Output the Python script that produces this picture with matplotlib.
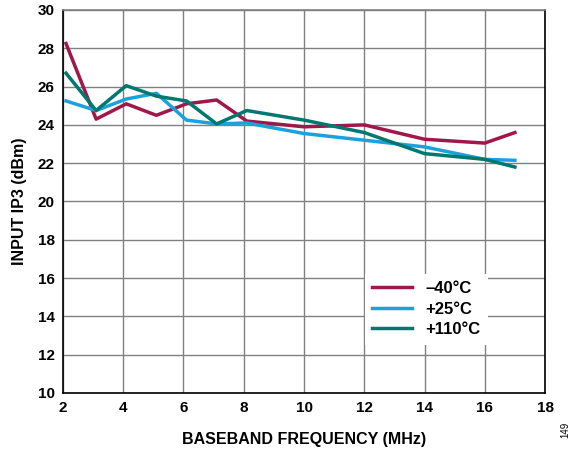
import matplotlib.pyplot as plt

plt.rcParams['font.family'] = ['Liberation Sans', 'DejaVu Sans']

freq = [2.1, 3.1, 4.1, 5.1, 6.1, 7.1, 8.1, 10, 12, 14, 16, 17]
ip3_m40 = [28.25, 24.3, 25.1, 24.5, 25.1, 25.3, 24.2, 23.9, 24.0, 23.25, 23.05, 23.6]
ip3_p25 = [25.25, 24.75, 25.35, 25.65, 24.25, 24.05, 24.1, 23.55, 23.2, 22.85, 22.2, 22.15]
ip3_p110 = [26.7, 24.75, 26.05, 25.5, 25.25, 24.05, 24.75, 24.25, 23.6, 22.5, 22.2, 21.8]
labels = ['\u201340°C', '+25°C', '+110°C']
colors = ['#A0174A', '#1BA1DC', '#00786F']

fig = plt.figure(figsize=(5.8, 4.5), dpi=100)
ax = fig.add_axes([0.1086, 0.1267, 0.8311, 0.8511])

for ys, lab, c in zip([ip3_m40, ip3_p25, ip3_p110], labels, colors):
    ax.plot(freq, ys, color=c, lw=2.5, label=lab)

ax.set_xlim(2, 18)
ax.set_ylim(10, 30)
ax.set_xticks(range(2, 19, 2))
ax.set_yticks(range(10, 31, 2))
ax.grid(True, color='#808080', lw=1)
ax.set_axisbelow(True)
for s in ax.spines.values():
    s.set_color('black')
    s.set_linewidth(1.2)
ax.spines['top'].set_color('#808080')
ax.tick_params(length=0, labelsize=11, pad=6)
for t in ax.get_xticklabels() + ax.get_yticklabels():
    t.set_fontweight('bold')
ax.set_xlabel('BASEBAND FREQUENCY (MHz)', fontsize=11.5, fontweight='bold', labelpad=12)
ax.set_ylabel('INPUT IP3 (dBm)', fontsize=11.5, fontweight='bold', labelpad=8)

leg = ax.legend(loc='lower right', bbox_to_anchor=(0.882, 0.126), frameon=True,
                fancybox=False, edgecolor='none', facecolor='white', framealpha=1,
                prop={'weight': 'bold', 'size': 12}, handlelength=2.4,
                borderpad=0.45, labelspacing=0.33, borderaxespad=0)

fig.text(0.975, 0.045, '149', rotation=90, fontsize=7, ha='center', va='center')

fig.savefig('out.png', dpi=100)
